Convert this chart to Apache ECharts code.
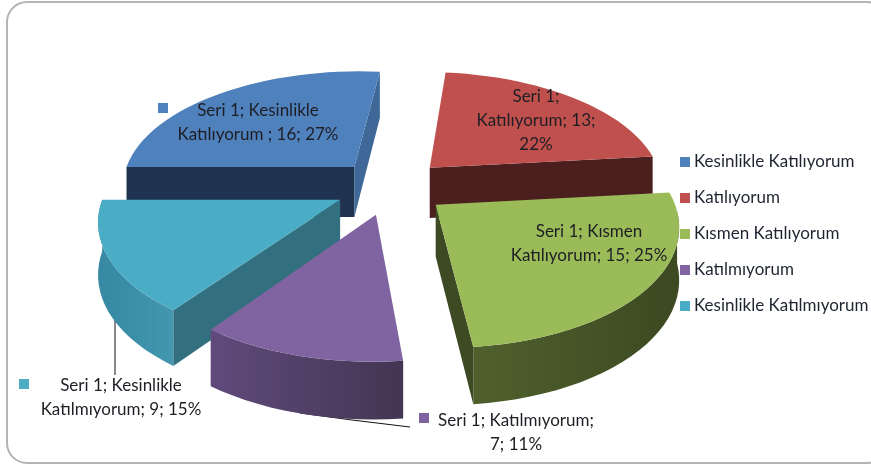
<!DOCTYPE html>
<html>
<head>
<meta charset="utf-8">
<title>Seri 1</title>
<style>
html, body { margin: 0; padding: 0; background: #fff; }
#main { width: 871px; height: 465px; }
</style>
<script src="https://cdn.jsdelivr.net/npm/echarts@6/dist/echarts.min.js"></script>
</head>
<body>
<div id="main"></div>
<script>
var categories = ['Kesinlikle Katılıyorum', 'Katılıyorum', 'Kısmen Katılıyorum', 'Katılmıyorum', 'Kesinlikle Katılmıyorum'];
var values = [16, 13, 15, 7, 9];
var labelLines = [
	['Seri 1; Kesinlikle', 'Katılıyorum ; 16; 27%'],
	['Seri 1;', 'Katılıyorum; 13;', '22%'],
	['Seri 1; Kısmen', 'Katılıyorum; 15; 25%'],
	['Seri 1; Katılmıyorum;', '7; 11%'],
	['Seri 1; Kesinlikle', 'Katılmıyorum; 9; 15%']
];

var fontName = 'Lato';
var startAngle = -90;
// fake 3d: flat disc seen with perspective
var view = { cx: 391, cy: 187, ax: 234, ay: 115.6, p: 0.1505, explode: 0.24, height: 51 };

// styles per slice, same order as categories
var topColors = ['#4f81bd', '#c0504d', '#9bbb59', '#8064a2', '#4bacc6'];
var startWall = ['#1f3350', '#4a1f1e', '#3d4a23', '#5a4772', '#33707f'];
var endWall = ['#3f6797', '#4a1f1e', '#3d4a23', '#5a4772', '#33707f'];
var rimStops = [
	['#2c4a70', '#2c4a70'],
	['#4a1f1e', '#4a1f1e'],
	['#50602d', '#3c4921'],
	['#604a7c', '#433552'],
	['#3688a3', '#4397af']
];
var drawOrder = [0, 1, 4, 3, 2];
var labelPos = [[258, 123], [536, 121], [589, 244], [516, 433], [121, 398]];
var keyPos = [[163, 108], [457, 98], [497, 228], [424, 418], [24, 384]];
var leaders = [null, null, null, [[300, 413], [352, 420], [410, 427]], [[115, 305], [115, 375]]];

var total = 0;
values.forEach(function(v) { total += v; });

function project(u, v, z) {
	var s = 1 / (1 - view.p * v);
	return [view.cx + view.ax * u * s, view.cy + view.ay * v * s + z * view.height * Math.pow(s, 0.6)];
}

function sliceShapes(idx) {
	var before = 0;
	for (var i = 0; i < idx; i++) before += values[i];
	var a1 = startAngle + before / total * 360;
	var a2 = a1 + values[idx] / total * 360;
	var mid = (a1 + a2) / 2 * Math.PI / 180;
	var ou = Math.sin(mid) * view.explode;
	var ov = -Math.cos(mid) * view.explode;
	var rad1 = a1 * Math.PI / 180, rad2 = a2 * Math.PI / 180;
	var topRim = [], frontTop = [], frontLow = [];
	var steps = Math.ceil((a2 - a1) / 3);
	for (var k = 0; k <= steps; k++) {
		var a = rad1 + (rad2 - rad1) * k / steps;
		topRim.push(project(ou + Math.sin(a), ov - Math.cos(a), 0));
		// only the near half of the rim shows a wall
		if (Math.cos(a) < 0) {
			frontTop.push(project(ou + Math.sin(a), ov - Math.cos(a), 0));
			frontLow.push(project(ou + Math.sin(a), ov - Math.cos(a), 1));
		}
	}
	var apexTop = project(ou, ov, 0);
	var apexLow = project(ou, ov, 1);
	var faceAt = function(a) {
		return [apexTop, project(ou + Math.sin(a), ov - Math.cos(a), 0), project(ou + Math.sin(a), ov - Math.cos(a), 1), apexLow];
	};
	return {
		top: [apexTop].concat(topRim),
		rim: frontTop.length > 1 ? frontTop.concat(frontLow.reverse()) : null,
		startFace: -Math.sin(rad1) > 0 ? faceAt(rad1) : null,
		endFace: Math.sin(rad2) > 0 ? faceAt(rad2) : null
	};
}

function polygon(points, fill, z2) {
	return { type: 'polygon', z2: z2, shape: { points: points }, style: { fill: fill } };
}

function renderSlice(idx) {
	return function() {
		var s = sliceShapes(idx);
		var children = [];
		if (leaders[idx]) {
			// leader runs under the wall, so it stops at the wall's edge
			children.push({
				type: 'polyline', z2: 0,
				shape: { points: leaders[idx] },
				style: { stroke: '#111', lineWidth: 1, fill: null }
			});
		}
		if (s.rim) {
			children.push(polygon(s.rim, new echarts.graphic.LinearGradient(0, 0, 1, 0, [
				{ offset: 0, color: rimStops[idx][0] },
				{ offset: 1, color: rimStops[idx][1] }
			]), 1));
		}
		if (s.startFace) children.push(polygon(s.startFace, startWall[idx], 2));
		if (s.endFace) children.push(polygon(s.endFace, endWall[idx], 2));
		children.push(polygon(s.top, topColors[idx], 4));
		children.push({
			type: 'rect', z2: 5,
			shape: { x: keyPos[idx][0] - 5, y: keyPos[idx][1] - 5, width: 10, height: 10 },
			style: { fill: topColors[idx] }
		});
		children.push({
			type: 'text', z2: 6,
			x: labelPos[idx][0], y: labelPos[idx][1],
			style: {
				text: labelLines[idx].join('\n'),
				font: '17px ' + fontName,
				lineHeight: 24,
				fill: '#1e1e24',
				align: 'center',
				verticalAlign: 'middle'
			}
		});
		return { type: 'group', children: children };
	};
}

var series = categories.map(function(name, i) {
	return {
		type: 'custom',
		name: name,
		coordinateSystem: 'none',
		z: 2 + drawOrder.indexOf(i),
		silent: true,
		animation: false,
		itemStyle: { color: topColors[i] },
		data: [values[i]],
		renderItem: renderSlice(i)
	};
});

var myChart = echarts.init(document.getElementById('main'), null, { renderer: 'canvas' });
var option = {
	animation: false,
	backgroundColor: '#fff',
	legend: {
		data: categories.map(function(name) { return { name: name, icon: 'rect' }; }),
		orient: 'vertical',
		left: 680,
		top: 153,
		itemWidth: 10,
		itemHeight: 10,
		itemGap: 18,
		padding: 0,
		selectedMode: false,
		textStyle: { fontFamily: fontName, fontSize: 17, color: '#1e2430', padding: [0, 0, 0, -1], lineHeight: 18 }
	},
	graphic: [{
		type: 'rect',
		silent: true,
		z: -1,
		shape: { x: 7, y: 2, width: 880, height: 461, r: 20 },
		style: { fill: '#fff', stroke: '#b4b4b4', lineWidth: 2 }
	}],
	series: series
};
myChart.setOption(option);
</script>
</body>
</html>
